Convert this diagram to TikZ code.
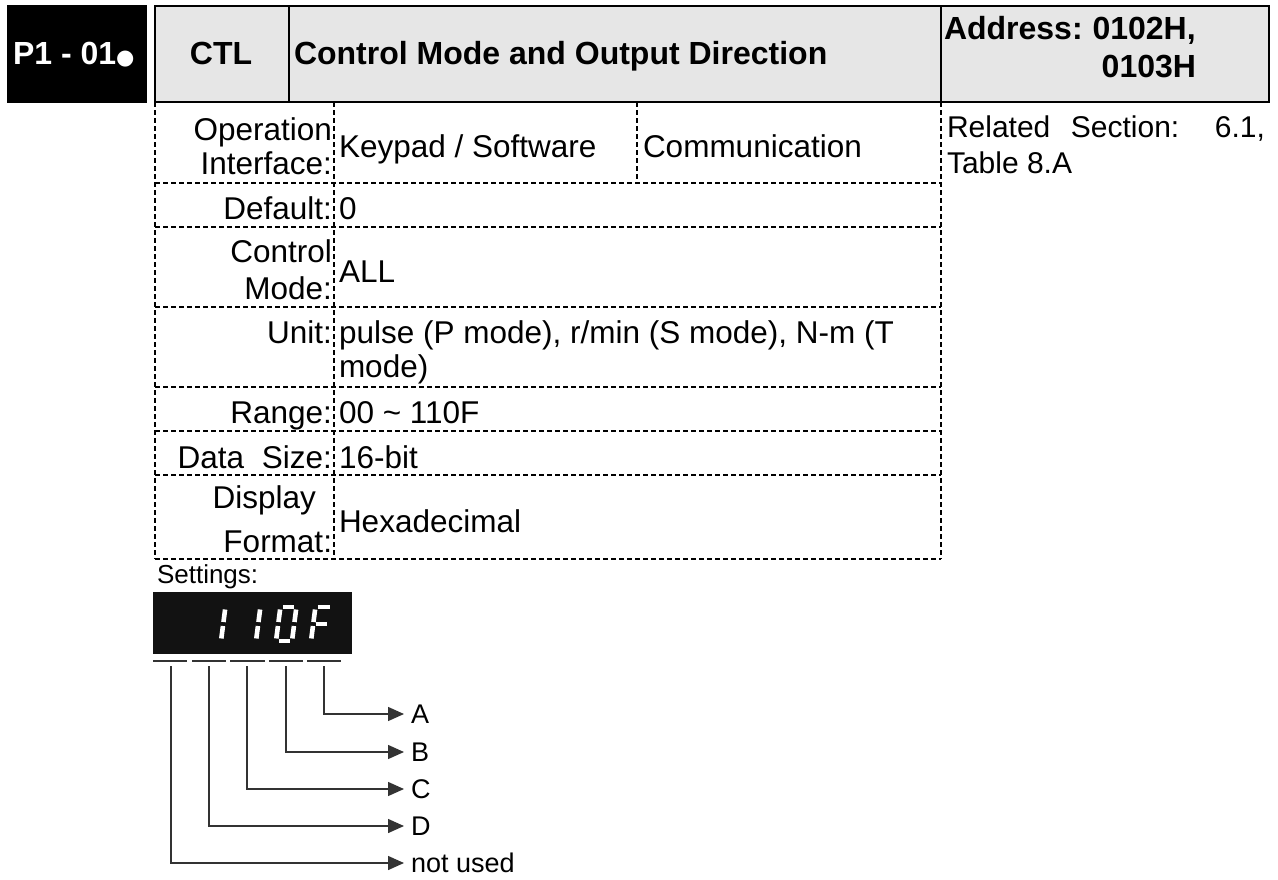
\documentclass[tikz,border=0pt]{standalone}
\usepackage{fontspec}
\setmainfont{Liberation Sans}
\newfontfamily\symfont{DejaVu Sans}
\usetikzlibrary{arrows.meta}
\definecolor{hdrgray}{HTML}{E6E6E6}
\definecolor{leadgray}{HTML}{333333}
\begin{document}
\begin{tikzpicture}[x=1pt,y=-1pt,
  every node/.style={inner sep=0pt, outer sep=0pt},
  hdr/.style={font=\bfseries\fontsize{32}{35}\selectfont, anchor=base west},
  body/.style={font=\fontsize{31.5}{34}\selectfont, anchor=base west},
  lbl/.style={font=\fontsize{31.5}{34}\selectfont, anchor=base east},
  rel/.style={font=\fontsize{30}{34}\selectfont, anchor=base west},
  grid/.style={line width=1.6pt, dash pattern=on 5pt off 3pt},
  frame/.style={line width=1.8pt},
  seg/.style={draw=white, line width=4.6pt, line cap=butt},
  lead/.style={draw=leadgray, line width=1.4pt},
  arr/.style={lead, -{Triangle[length=16pt,width=14pt]}},
  tag/.style={font=\fontsize{27}{30}\selectfont, anchor=west, inner xsep=7pt}
]
\useasboundingbox (0,0) rectangle (1278,879);

% ---- parameter id badge ----
\node[fill=black, minimum width=140pt, minimum height=98pt, anchor=north west] (badge) at (7,5) {};
\node[hdr, text=white] (badgetxt) at (13,64) {P1 - 01{\symfont\fontsize{21}{21}\selectfont ●}};

% ---- header row ----
\draw[frame, fill=hdrgray] (155,6) rectangle (1269,102);
\draw[frame] (289,6) -- (289,102);
\draw[frame] (941,6) -- (941,102);
\node[hdr, anchor=base] (code) at (221,64) {CTL};
\node[hdr] (title) at (294,64) {Control Mode and Output Direction};
\node[hdr] (addr1) at (944,39) {Address:\hspace{-2pt} 0102H,};
\node[hdr, anchor=base east] (addr2) at (1196,77) {0103H};

% ---- dashed attribute grid ----
\foreach \gx in {155,334,941} \draw[grid] (\gx,102) -- (\gx,559);
\draw[grid] (637,102) -- (637,183);
\foreach \gy in {183,227,307,387,431,475,559} \draw[grid] (155,\gy) -- (941,\gy);

% ---- attribute labels ----
\node[lbl] (lop1) at (332,140) {Operation};
\node[lbl] (lop2) at (332,174) {Interface:};
\node[lbl] (ldef) at (332,219) {Default:};
\node[lbl] (lctl1) at (332,262) {Control};
\node[lbl] (lctl2) at (332,299) {Mode:};
\node[lbl] (lunit) at (332,343) {Unit:};
\node[lbl] (lrange) at (332,423) {Range:};
\node[lbl] (lsize) at (332,468) {Data\hspace{9pt} Size:};
\node[lbl] (ldisp1) at (316,508) {Display};
\node[lbl] (ldisp2) at (332,552) {Format:};

% ---- attribute values ----
\node[body] (vkey) at (339,157) {Keypad / Software};
\node[body] (vcom) at (643,157) {Communication};
\node[body] (vdef) at (339,219) {0};
\node[body] (vctl) at (339,282) {ALL};
\node[body] (vunit1) at (339,343) {pulse (P mode), r/min (S mode), N-m (T};
\node[body] (vunit2) at (339,377) {mode)};
\node[body] (vrange) at (339,423) {00 \textasciitilde{} 110F};
\node[body] (vsize) at (339,468) {16-bit};
\node[body] (vfmt) at (339,532) {Hexadecimal};

\node[rel] (rel1) at (947,137) {\makebox[318pt][s]{Related Section: 6.1,}};
\node[rel] (rel2) at (947,173) {Table 8.A};

% ---- settings display ----
\node[font=\fontsize{26}{28}\selectfont, anchor=base west] (settings) at (157,583) {Settings:};
\node[fill=black!93, minimum width=199pt, minimum height=62pt, anchor=north west] (disp) at (153,592) {};

% seven-segment digits: origin = bottom-left of the segment centre lines
% digit 2: "1"
\begin{scope}[shift={(205,641)}, xslant=0.13]
  \draw[seg] (16,-31.5) -- (16,-19);
  \draw[seg] (16,-15) -- (16,-2.5);
\end{scope}
% digit 3: "1"
\begin{scope}[shift={(240,641)}, xslant=0.13]
  \draw[seg] (16,-31.5) -- (16,-19);
  \draw[seg] (16,-15) -- (16,-2.5);
\end{scope}
% digit 4: "0"
\begin{scope}[shift={(276,641)}, xslant=0.13]
  \draw[seg] (2.5,-34) -- (13.5,-34);
  \draw[seg] (16,-31.5) -- (16,-19);
  \draw[seg] (16,-15) -- (16,-2.5);
  \draw[seg] (2.5,0) -- (13.5,0);
  \draw[seg] (0,-2.5) -- (0,-15);
  \draw[seg] (0,-19) -- (0,-31.5);
\end{scope}
% digit 5: "F"
\begin{scope}[shift={(311,641)}, xslant=0.13]
  \draw[seg] (2.5,-34) -- (14.5,-34);
  \draw[seg] (2.5,-17) -- (13.5,-17);
  \draw[seg] (0,-2.5) -- (0,-15);
  \draw[seg] (0,-19) -- (0,-31.5);
\end{scope}

% digit slot marks
\draw[lead] (153,661) -- (187,661);
\draw[lead] (192,661) -- (226,661);
\draw[lead] (230,661) -- (265,661);
\draw[lead] (269,661) -- (303,661);
\draw[lead] (307,661) -- (341,661);

\coordinate (s1) at (171,666);
\coordinate (s2) at (209,666);
\coordinate (s3) at (247,666);
\coordinate (s4) at (286,666);
\coordinate (s5) at (324,666);

% ---- digit meaning callouts ----
\node[tag] (tA) at (404,714) {A};
\node[tag] (tB) at (404,752) {B};
\node[tag] (tC) at (404,789) {C};
\node[tag] (tD) at (404,826) {D};
\node[tag] (tN) at (404,863) {not used};

\draw[arr] (s5) |- (tA.west);
\draw[arr] (s4) |- (tB.west);
\draw[arr] (s3) |- (tC.west);
\draw[arr] (s2) |- (tD.west);
\draw[arr] (s1) |- (tN.west);
\end{tikzpicture}
\end{document}
